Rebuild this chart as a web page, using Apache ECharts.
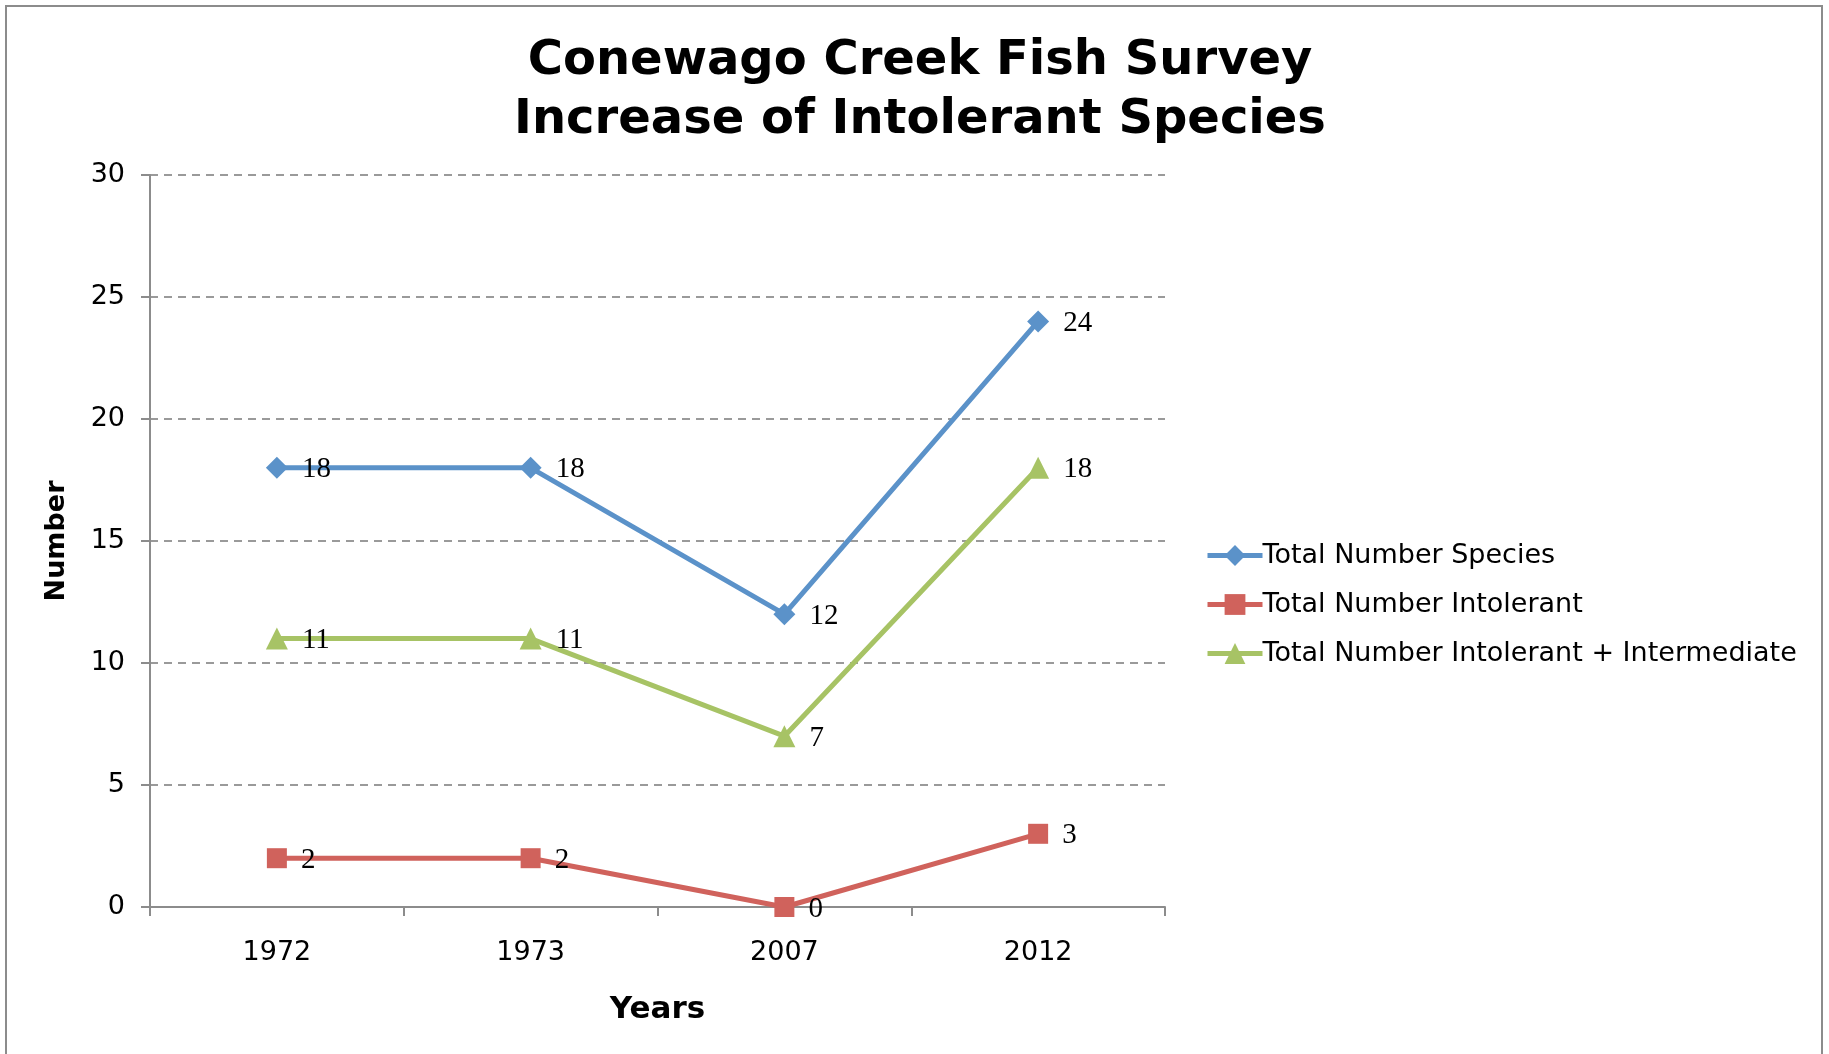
<!DOCTYPE html>
<html>
<head>
<meta charset="utf-8">
<script src="https://cdn.jsdelivr.net/npm/echarts@6/dist/echarts.min.js"></script>
<style>
html, body { margin: 0; padding: 0; background: #fff; }
#chart { width: 1829px; height: 1054px; }
</style>
</head>
<body>
<div id="chart"></div>
<script>
var years = ['1972', '1973', '2007', '2012'];
var totalSpecies = [18, 18, 12, 24];
var totalIntolerant = [2, 2, 0, 3];
var intolerantIntermediate = [11, 11, 7, 18];

var sans = '"DejaVu Sans", Verdana, sans-serif';
var serif = '"Liberation Serif", serif';

function lineSeries(name, data, color, symbol, size) {
    return {
        name: name,
        type: 'line',
        data: data,
        symbol: symbol,
        symbolSize: size,
        showAllSymbol: true,
        lineStyle: { color: color, width: 5 },
        itemStyle: { color: color },
        label: {
            show: true,
            position: 'right',
            distance: 14,
            color: '#000',
            fontFamily: serif,
            fontSize: 29,
            offset: [0, 2]
        }
    };
}

var chart = echarts.init(document.getElementById('chart'));
chart.setOption({
    animation: false,
    backgroundColor: '#fff',
    graphic: [{
        type: 'rect',
        shape: { x: 6, y: 6, width: 1816, height: 1070 },
        style: { fill: 'none', stroke: '#8c8c8c', lineWidth: 2 },
        silent: true
    }],
    title: {
        text: 'Conewago Creek Fish Survey\nIncrease of Intolerant Species',
        left: 915,
        top: 27,
        textAlign: 'center',
        textStyle: {
            fontFamily: sans,
            fontWeight: 'bold',
            fontSize: 48,
            lineHeight: 59,
            color: '#000'
        }
    },
    legend: {
        orient: 'vertical',
        left: 1200,
        top: 535,
        itemWidth: 55,
        itemHeight: 26,
        itemGap: 18,
        lineStyle: { width: 5 },
        textStyle: {
            fontFamily: sans,
            fontSize: 27,
            lineHeight: 31,
            color: '#000',
            padding: [0, 0, 0, -5]
        },
        data: ['Total Number Species', 'Total Number Intolerant', 'Total Number Intolerant + Intermediate']
    },
    grid: {
        left: 150,
        right: 664,
        top: 175,
        bottom: 147
    },
    xAxis: {
        type: 'category',
        data: years,
        boundaryGap: true,
        name: 'Years',
        nameLocation: 'middle',
        nameGap: 87,
        nameTextStyle: { fontFamily: sans, fontWeight: 'bold', fontSize: 31, color: '#000' },
        axisLine: { lineStyle: { color: '#8c8c8c', width: 2 } },
        axisTick: { show: true, length: 9, alignWithLabel: false, lineStyle: { color: '#8c8c8c', width: 2 } },
        axisLabel: { fontFamily: sans, fontSize: 27, color: '#000', margin: 32 }
    },
    yAxis: {
        type: 'value',
        min: 0,
        max: 30,
        interval: 5,
        name: 'Number',
        nameLocation: 'middle',
        nameGap: 80,
        nameRotate: 90,
        nameTextStyle: { fontFamily: sans, fontWeight: 'bold', fontSize: 27, color: '#000' },
        axisLine: { show: true, lineStyle: { color: '#8c8c8c', width: 2 } },
        axisTick: { show: true, length: 9, lineStyle: { color: '#8c8c8c', width: 2 } },
        axisLabel: { fontFamily: sans, fontSize: 27, color: '#000', margin: 25 },
        splitLine: { show: true, lineStyle: { color: '#9a9a9a', width: 2, type: [8, 6] } }
    },
    series: [
        lineSeries('Total Number Species', totalSpecies, '#5b92c9', 'diamond', 22),
        lineSeries('Total Number Intolerant', totalIntolerant, '#d0625c', 'rect', 20),
        lineSeries('Total Number Intolerant + Intermediate', intolerantIntermediate, '#a7c365', 'triangle', 22)
    ]
});
</script>
</body>
</html>
